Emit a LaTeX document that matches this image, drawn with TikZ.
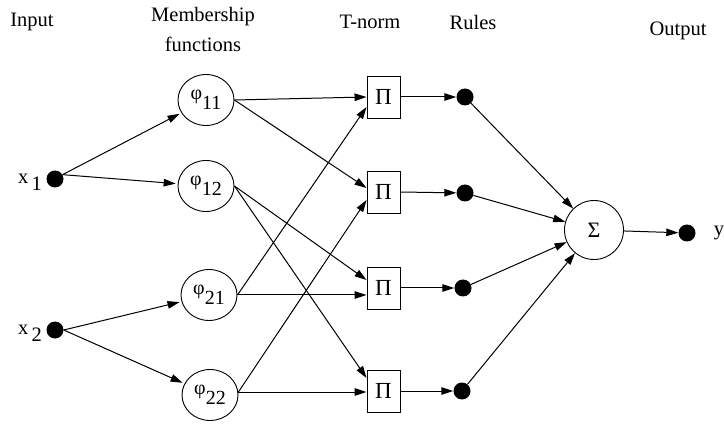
\documentclass[tikz,border=0pt]{standalone}
\usepackage{fontspec}
\setmainfont{Liberation Serif}
\usetikzlibrary{arrows.meta,shapes.geometric,calc}
\begin{document}
\begin{tikzpicture}[x=1pt,y=-1pt,
  lbl/.style={font=\fontsize{20.5}{30}\selectfont, inner sep=0pt, align=center},
  mf/.style={draw, ellipse, minimum width=56pt, minimum height=51pt, inner sep=0pt, line width=0.9pt, font=\fontsize{20}{22}\selectfont},
  pbox/.style={draw, rectangle, minimum width=33pt, minimum height=42pt, inner sep=0pt, line width=0.9pt, font=\fontsize{23}{24}\selectfont},
  dotn/.style={circle, fill, minimum size=17pt, inner sep=0pt},
  sumn/.style={draw, circle, minimum size=59pt, inner sep=0pt, line width=0.9pt, font=\fontsize{22}{24}\selectfont},
  con/.style={line width=1pt, -{Triangle[length=12pt,width=7.5pt]}},
]
\useasboundingbox (0,0) rectangle (724,425);

% titles
\node[lbl] (tin) at (32,22) {Input};
\node[lbl] (tmf) at (203,29) {Membership\\functions};
\node[lbl] (ttn) at (370,22) {T-norm};
\node[lbl] (tru) at (473,22) {Rules};
\node[lbl] (tout) at (678,31) {Output};

% inputs
\node[dotn] (x1) at (55,179) {};
\node[dotn] (x2) at (55,330) {};
\node[lbl] (lx1) at (30,182) {x\,\raisebox{-7pt}{1}};
\node[lbl] (lx2) at (30,333) {x\,\raisebox{-7pt}{2}};

% membership functions
\node[mf] (m11) at (206,100) {φ\raisebox{-10pt}{11}};
\node[mf] (m12) at (206,186) {φ\raisebox{-10pt}{12}};
\node[mf] (m21) at (209,295) {φ\raisebox{-10pt}{21}};
\node[mf] (m22) at (210,395) {φ\raisebox{-10pt}{22}};

% T-norm
\node[pbox] (p1) at (383.5,97) {Π};
\node[pbox] (p2) at (383.5,192) {Π};
\node[pbox] (p3) at (383.5,288) {Π};
\node[pbox] (p4) at (383.5,391) {Π};

% rules
\node[dotn] (r1) at (465,97) {};
\node[dotn] (r2) at (465,193) {};
\node[dotn] (r3) at (463,288) {};
\node[dotn] (r4) at (462,391) {};

% output
\node[sumn] (S) at (594,230) {\raisebox{-4pt}{Σ}};
\node[dotn] (yd) at (687,233) {};
\node[lbl] (ly) at (719,233) {y};

% connectors
\draw[con, shorten >=2pt] (x1.30) -- (m11);
\draw[con, shorten >=2pt] (x1.30) -- (m12);
\draw[con, shorten >=2pt] (x2.east) -- (m21);
\draw[con, shorten >=2pt] (x2.east) -- (m22);

\draw[con] (m11.east) -- (p1.west);
\draw[con] (m11.east) -- ($(p2.west)+(0,-4)$);
\draw[con] (m12.east) -- ($(p3.west)+(0,-8)$);
\draw[con] (m12.east) -- ($(p4.west)+(0,-13)$);
\draw[con] (m21.east) -- ($(p1.west)+(0,10)$);
\draw[con] (m21.east) -- ($(p3.west)+(0,7)$);
\draw[con] ($(m22.east)+(0,-3)$) -- ($(p2.west)+(0,8)$);
\draw[con] ($(m22.east)+(0,-3)$) -- ($(p4.west)+(0,1)$);

\draw[con] (p1.east) -- (r1);
\draw[con] (p2.east) -- (r2);
\draw[con] (p3.east) -- (r3);
\draw[con] (p4.east) -- (r4);

\draw[con] (r1) -- (S);
\draw[con] (r2) -- (S);
\draw[con] (r3) -- (S);
\draw[con] (r4) -- (S);
\draw[con] (S) -- (yd);
\end{tikzpicture}
\end{document}
